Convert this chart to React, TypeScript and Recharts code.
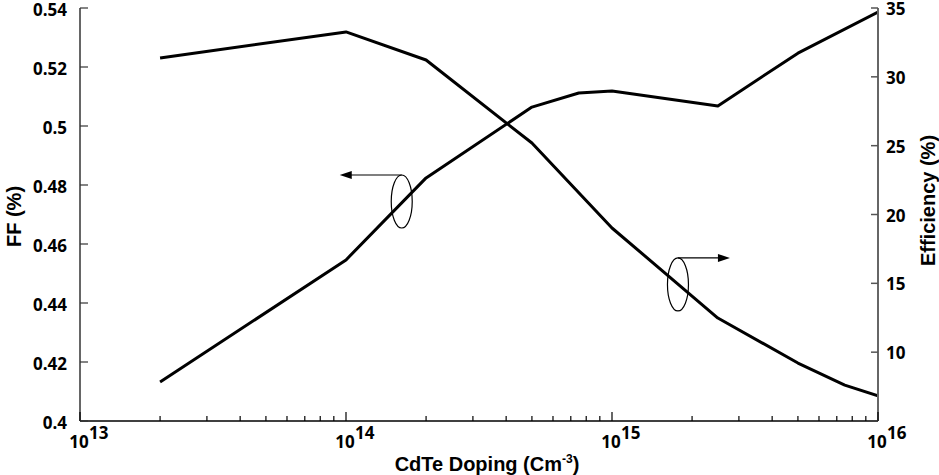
import React from "react";
import { ComposedChart, Line, XAxis, YAxis, ReferenceDot } from "recharts";

// FF (left axis) vs CdTe doping
const ffDoping = [2e13, 1e14, 2e14, 5e14, 7.5e14, 1e15, 2.5e15, 5e15, 1e16];
const ffValues = [0.4132, 0.4546, 0.4824, 0.5064, 0.5112, 0.5119, 0.5068, 0.5247, 0.5386];

// Efficiency (right axis) vs CdTe doping
const effDoping = [2e13, 1e14, 2e14, 5e14, 1e15, 2.5e15, 5e15, 7.5e15, 1e16];
const effValues = [31.37, 33.26, 31.22, 25.19, 19.02, 12.48, 9.21, 7.61, 6.82];

const decades = [13, 14, 15, 16];
const minorMult = [2, 3, 4, 5, 6, 7, 8, 9];
const ffTicks = [0.4, 0.42, 0.44, 0.46, 0.48, 0.5, 0.52, 0.54];
const effTicks = [10, 15, 20, 25, 30, 35];

// annotation anchors (ellipse centres, data units)
const ffMarker = { doping: 1.62e14, value: 0.4744 };
const effMarker = { doping: 1.77e15, value: 14.92 };

const ffData = ffDoping.map((d, i) => ({ doping: d, ff: ffValues[i] }));
const effData = effDoping.map((d, i) => ({ doping: d, eff: effValues[i] }));

const xTicks: number[] = [];
decades.forEach((p, i) => {
  xTicks.push(Math.pow(10, p));
  if (i < decades.length - 1) minorMult.forEach((m) => xTicks.push(m * Math.pow(10, p)));
});

const TICK_FONT = "'Open Sans', 'Noto Sans', sans-serif";
const TITLE_FONT = "'Liberation Sans', Arial, sans-serif";

const isMajor = (v: number) => {
  const l = Math.log10(v);
  return Math.abs(l - Math.round(l)) < 1e-6;
};

function BottomTick(props: any) {
  const { x, y, payload } = props;
  const v = payload.value as number;
  const major = isMajor(v);
  return (
    <g>
      <line x1={x} y1={y} x2={x} y2={y - (major ? 9 : 5)} stroke="#000" strokeWidth={1.2} />
      {major && (
        <g fontFamily={TICK_FONT} fontWeight={700} fontSize={17} fill="#000">
          <text x={x - 1} y={y + 27} textAnchor="middle">10</text>
          <text x={x + 9} y={y + 18} textAnchor="start">{Math.round(Math.log10(v))}</text>
        </g>
      )}
    </g>
  );
}

function TopTick(props: any) {
  const { x, y, payload } = props;
  const major = isMajor(payload.value);
  return <line x1={x} y1={y} x2={x} y2={y + (major ? 7 : 4)} stroke="#000" strokeWidth={1.2} />;
}

function LeftTick(props: any) {
  const { x, y, payload } = props;
  return (
    <g>
      <line x1={x} y1={y} x2={x + 8} y2={y} stroke="#333" strokeWidth={1.2} />
      <text x={x - 13} y={y + 8} textAnchor="end" fontFamily={TICK_FONT} fontWeight={700} fontSize={17} fill="#000">
        {String(Number(payload.value.toFixed(2)))}
      </text>
    </g>
  );
}

function RightTick(props: any) {
  const { x, y, payload } = props;
  return (
    <g>
      <line x1={x} y1={y} x2={x - 7} y2={y} stroke="#555" strokeWidth={1.5} />
      <text x={x + 8} y={y + 7} textAnchor="start" fontFamily={TICK_FONT} fontWeight={700} fontSize={17} fill="#000">
        {payload.value}
      </text>
    </g>
  );
}

function LeftMarker(props: any) {
  const { cx, cy } = props;
  const top = cy - 26.5;
  return (
    <g>
      <ellipse cx={cx} cy={cy} rx={10.5} ry={26.5} fill="none" stroke="#000" strokeWidth={1.2} />
      <line x1={cx} y1={top} x2={cx - 52} y2={top} stroke="#000" strokeWidth={1.2} />
      <polygon points={`${cx - 62},${top} ${cx - 50},${top - 4} ${cx - 50},${top + 4}`} fill="#000" />
    </g>
  );
}

function RightMarker(props: any) {
  const { cx, cy } = props;
  const top = cy - 26.5;
  return (
    <g>
      <ellipse cx={cx} cy={cy} rx={10.5} ry={26.5} fill="none" stroke="#000" strokeWidth={1.2} />
      <line x1={cx} y1={top} x2={cx + 42} y2={top} stroke="#000" strokeWidth={1.2} />
      <polygon points={`${cx + 52},${top} ${cx + 40},${top - 4} ${cx + 40},${top + 4}`} fill="#000" />
    </g>
  );
}

function XTitle(props: any) {
  const vb = props.viewBox;
  const cx = vb.x + vb.width / 2 + 8;
  return (
    <text x={cx} y={vb.y + 50} textAnchor="middle" fontFamily={TITLE_FONT} fontWeight={700} fontSize={20} fill="#000">
      CdTe Doping (Cm
      <tspan fontSize={12} dy={-8}>-3</tspan>
      <tspan dy={8}>)</tspan>
    </text>
  );
}

function LeftTitle(props: any) {
  const vb = props.viewBox;
  const cx = 14;
  const cy = vb.y + vb.height / 2 + 2;
  return (
    <text x={cx} y={cy} transform={`rotate(-90 ${cx} ${cy})`} textAnchor="middle" dominantBaseline="central"
      fontFamily={TITLE_FONT} fontWeight={700} fontSize={20} fill="#000">
      FF (%)
    </text>
  );
}

function RightTitle(props: any) {
  const vb = props.viewBox;
  const cx = 928;
  const cy = vb.y + vb.height / 2 - 14;
  return (
    <text x={cx} y={cy} transform={`rotate(-90 ${cx} ${cy})`} textAnchor="middle" dominantBaseline="central"
      fontFamily={TITLE_FONT} fontWeight={700} fontSize={20} fill="#000">
      Efficiency (%)
    </text>
  );
}

export default function App() {
  return (
    <div style={{ position: "absolute", left: 0, top: 0, width: 939, height: 475, background: "#fff" }}>
      <ComposedChart width={939} height={475} margin={{ top: 8, right: 0, bottom: 0, left: 0 }}>
        <XAxis
          xAxisId="b"
          dataKey="doping"
          type="number"
          scale="log"
          domain={[1e13, 1e16]}
          allowDataOverflow
          ticks={xTicks}
          interval={0}
          height={54}
          tickSize={0}
          tickMargin={0}
          tickLine={false}
          axisLine={{ stroke: "#000", strokeWidth: 1.5 }}
          tick={<BottomTick />}
          label={{ content: (p: any) => <XTitle {...p} /> }}
        />
        <XAxis
          xAxisId="t"
          orientation="top"
          dataKey="doping"
          type="number"
          scale="log"
          domain={[1e13, 1e16]}
          allowDataOverflow
          ticks={xTicks}
          interval={0}
          height={0}
          tickSize={0}
          tickMargin={0}
          tickLine={false}
          axisLine={{ stroke: "#000", strokeWidth: 1.2 }}
          tick={<TopTick />}
        />
        <YAxis
          yAxisId="ff"
          domain={[0.4, 0.54]}
          allowDataOverflow
          ticks={ffTicks}
          interval={0}
          width={80}
          tickSize={0}
          tickMargin={0}
          tickLine={false}
          axisLine={{ stroke: "#333", strokeWidth: 1.5 }}
          tick={<LeftTick />}
          label={{ content: (p: any) => <LeftTitle {...p} /> }}
        />
        <YAxis
          yAxisId="eff"
          orientation="right"
          domain={[5, 35]}
          allowDataOverflow
          ticks={effTicks}
          interval={0}
          width={61}
          tickSize={0}
          tickMargin={0}
          tickLine={false}
          axisLine={{ stroke: "#666", strokeWidth: 2 }}
          tick={<RightTick />}
          label={{ content: (p: any) => <RightTitle {...p} /> }}
        />
        <Line
          xAxisId="b"
          yAxisId="ff"
          data={ffData}
          dataKey="ff"
          type="linear"
          stroke="#000"
          strokeWidth={3}
          strokeLinejoin="round"
          dot={false}
          isAnimationActive={false}
        />
        <Line
          xAxisId="b"
          yAxisId="eff"
          data={effData}
          dataKey="eff"
          type="linear"
          stroke="#000"
          strokeWidth={3}
          strokeLinejoin="round"
          dot={false}
          isAnimationActive={false}
        />
        <ReferenceDot xAxisId="b" yAxisId="ff" x={ffMarker.doping} y={ffMarker.value} shape={LeftMarker} />
        <ReferenceDot xAxisId="b" yAxisId="eff" x={effMarker.doping} y={effMarker.value} shape={RightMarker} />
      </ComposedChart>
    </div>
  );
}
